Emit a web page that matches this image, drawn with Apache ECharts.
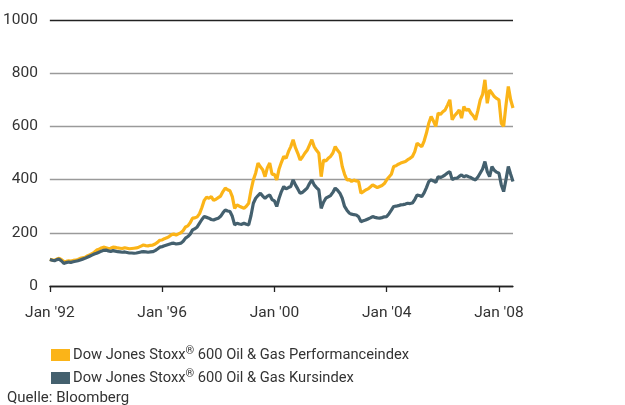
<!DOCTYPE html>
<html>
<head>
<meta charset="utf-8">
<script src="https://cdn.jsdelivr.net/npm/echarts@6/dist/echarts.min.js"></script>
<style>
  html, body { margin: 0; padding: 0; background: #fff; }
  #chart { width: 625px; height: 405px; }
</style>
</head>
<body>
<div id="chart"></div>
<script>
// monatliche Werte ab Jan 1992 (Index, Start = 100)
var startYear = 1992
var perfIndex = [
  100, 98, 96, 101, 104, 99, 92, 93, 95, 94, 96, 97,
  100, 104, 106, 108, 113, 117, 121, 127, 135, 138, 143, 146,
  144, 141, 142, 146, 145, 143, 142, 141, 144, 142, 140, 141,
  142, 143, 146, 150, 154, 152, 151, 153, 154, 158, 164, 172,
  173, 178, 181, 186, 193, 195, 192, 196, 200, 208, 222, 226,
  238, 255, 256, 260, 272, 295, 322, 334, 330, 336, 322, 326,
  332, 338, 355, 368, 362, 358, 336, 292, 305, 300, 296, 292,
  300, 311, 360, 399, 425, 462, 448, 437, 411, 445, 462, 420,
  420, 399, 440, 465, 487, 480, 505, 524, 550, 520, 499, 474,
  485, 499, 510, 530, 550, 524, 510, 499, 411, 474, 470, 480,
  487, 500, 524, 510, 499, 449, 420, 399, 400, 393, 398, 395,
  393, 349, 355, 361, 365, 372, 380, 375, 370, 374, 378, 385,
  399, 410, 420, 449, 452, 458, 462, 465, 468, 475, 480, 487,
  505, 537, 530, 524, 545, 575, 612, 637, 620, 600, 650, 645,
  655, 662, 680, 700, 625, 640, 650, 662, 631, 675, 660, 665,
  650, 640, 625, 660, 700, 720, 775, 687, 737, 725, 712, 705,
  700, 612, 600, 680, 750, 700, 669
]
var kursIndex = [
  100, 97, 95, 99, 101, 94, 85, 88, 90, 89, 91, 93,
  95, 98, 101, 104, 108, 112, 116, 120, 123, 127, 131, 134,
  135, 132, 130, 133, 131, 129, 128, 127, 128, 126, 124, 124,
  123, 124, 126, 128, 129, 128, 127, 128, 129, 133, 139, 146,
  148, 151, 154, 157, 160, 161, 158, 159, 161, 168, 180, 186,
  195, 211, 215, 222, 236, 250, 261, 258, 255, 250, 248, 252,
  255, 262, 275, 286, 282, 280, 262, 230, 236, 233, 232, 236,
  232, 230, 265, 311, 330, 340, 349, 338, 330, 338, 342, 325,
  320, 299, 330, 355, 374, 365, 370, 374, 399, 380, 365, 349,
  352, 360, 368, 385, 399, 380, 370, 361, 292, 315, 330, 335,
  340, 352, 368, 360, 349, 330, 299, 285, 274, 270, 268, 267,
  260, 242, 245, 248, 252, 256, 261, 258, 256, 255, 257, 260,
  261, 272, 285, 299, 300, 302, 305, 306, 308, 311, 310, 312,
  325, 342, 340, 336, 350, 370, 393, 399, 395, 390, 411, 408,
  412, 418, 425, 430, 400, 405, 405, 412, 418, 410, 415, 411,
  408, 402, 399, 410, 425, 440, 468, 430, 411, 449, 435, 428,
  424, 380, 355, 400, 449, 420, 393
]
var seriesNames = [
  'Dow Jones Stoxx® 600 Oil & Gas Performanceindex',
  'Dow Jones Stoxx® 600 Oil & Gas Kursindex'
]
var xTickYears = [1992, 1996, 2000, 2004, 2008]

var fontFam = "Roboto, 'Open Sans', sans-serif"

function toPoints(arr) {
  return arr.map(function(v, i) {
    return [startYear + i / 12, v]
  })
}

function legendFor(name, top) {
  return {
    orient: 'vertical',
    left: 46,
    top: top,
    itemWidth: 19,
    itemHeight: 12,
    icon: 'rect',
    selectedMode: false,
    formatter: function(n) {
      return n.replace('®', '{sup|®}')
    },
    textStyle: {
      fontFamily: fontFam,
      fontSize: 14.7,
      color: '#333',
      padding: [0, 0, 0, -2],
      rich: {
        sup: { fontSize: 11, verticalAlign: 'top', padding: [0, 0, 7, 0], fontFamily: fontFam, color: '#333' }
      }
    },
    data: [name]
  }
}

var chart = echarts.init(document.getElementById('chart'), null, { renderer: 'canvas' })
chart.setOption({
  animation: false,
  grid: { left: 49, right: 112, top: 20, bottom: 119, containLabel: false },
  textStyle: { fontFamily: fontFam },
  legend: [legendFor(seriesNames[0], 341), legendFor(seriesNames[1], 364)],
  graphic: [{
    type: 'text',
    left: 7,
    top: 391,
    style: { text: 'Quelle: Bloomberg', font: '15px ' + fontFam, fill: '#333' }
  }],
  xAxis: {
    type: 'value',
    min: startYear,
    max: startYear + (perfIndex.length - 1) / 12,
    interval: 4,
    axisLine: { show: true, lineStyle: { color: '#222', width: 1.3 } },
    axisTick: {
      show: true, length: 6, inside: false,
      lineStyle: { color: '#222', width: 1.3 },
      customValues: xTickYears
    },
    axisLabel: {
      customValues: xTickYears,
      margin: 19,
      fontSize: 15.5,
      color: '#333',
      fontFamily: fontFam,
      formatter: function(v) {
        return "Jan '" + String(Math.round(v)).slice(2)
      }
    },
    splitLine: { show: false }
  },
  yAxis: {
    type: 'value',
    min: 0,
    max: 1000,
    interval: 200,
    axisLine: { show: false },
    axisTick: { show: false },
    axisLabel: {
      margin: 12, fontSize: 15.5, color: '#333', fontFamily: fontFam,
      formatter: function(v) { return String(v) }
    },
    splitLine: {
      show: true,
      lineStyle: { color: ['#222', '#9a9a9a', '#9a9a9a', '#9a9a9a', '#9a9a9a', '#222'], width: 1.3 }
    }
  },
  series: [
    {
      name: seriesNames[0],
      type: 'line',
      showSymbol: false,
      data: toPoints(perfIndex),
      itemStyle: { color: '#FBB418' },
      lineStyle: { color: '#FBB418', width: 3.2 },
      z: 2
    },
    {
      name: seriesNames[1],
      type: 'line',
      showSymbol: false,
      data: toPoints(kursIndex),
      itemStyle: { color: '#44606E' },
      lineStyle: { color: '#44606E', width: 3.2 },
      z: 3
    }
  ]
})
</script>
</body>
</html>
